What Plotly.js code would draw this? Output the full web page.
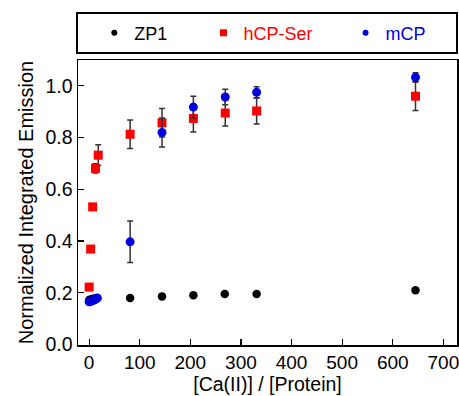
<!DOCTYPE html>
<html><head><meta charset="utf-8">
<script src="https://cdn.plot.ly/plotly-3.0.1.min.js"></script>
<style>html,body{margin:0;padding:0;background:#fff;}#chart{width:459px;height:396px;}</style>
</head><body><div id="chart"></div>
<script>
// ZP1
const zp1X = [0, 4, 8, 12, 16, 81, 144, 206, 268, 331, 645];
const zp1Y = [0.172, 0.175, 0.177, 0.178, 0.179, 0.180, 0.186, 0.190, 0.195, 0.195, 0.210];
// hCP-Ser
const hcpX = [0, 3, 7, 12.5, 18, 81, 144, 206, 269, 331, 645];
const hcpY = [0.222, 0.369, 0.532, 0.681, 0.732, 0.813, 0.857, 0.874, 0.895, 0.903, 0.960];
const hcpErr = [0.004, 0.005, 0.012, 0.018, 0.040, 0.055, 0.055, 0.052, 0.050, 0.050, 0.055];
// mCP
const mcpX = [0, 2, 4, 6, 8, 10, 12, 14, 16, 81, 144, 206, 269, 331, 645];
const mcpY = [0.165, 0.166, 0.168, 0.169, 0.171, 0.173, 0.175, 0.177, 0.180, 0.397, 0.820, 0.918, 0.957, 0.975, 1.033];
const mcpErr = [0, 0, 0, 0, 0, 0, 0, 0, 0, 0.080, 0.056, 0.042, 0.030, 0.022, 0.018];

const names = ['ZP1', 'hCP-Ser', 'mCP'];
const colors = ['#000000', '#ff0000', '#0000dd'];

const errStyle = (arr) => ({type: 'data', array: arr, visible: true, color: '#333333', thickness: 1.5, width: 3});

const traces = [
  {x: zp1X, y: zp1Y, type: 'scatter', mode: 'markers', showlegend: false,
   marker: {symbol: 'circle', size: 8.5, color: colors[0]}},
  {x: hcpX, y: hcpY, type: 'scatter', mode: 'markers', showlegend: false,
   error_y: errStyle(hcpErr),
   marker: {symbol: 'square', size: 9, color: colors[1]}},
  {x: mcpX, y: mcpY, type: 'scatter', mode: 'markers', showlegend: false,
   error_y: errStyle(mcpErr),
   marker: {symbol: 'circle', size: 9, color: colors[2]}},
  // legend-only entries
  {x: [null], y: [null], type: 'scatter', mode: 'markers', name: names[0], legend: 'legend',
   marker: {symbol: 'circle', size: 6, color: colors[0]}},
  {x: [null], y: [null], type: 'scatter', mode: 'markers', name: names[1], legend: 'legend2',
   marker: {symbol: 'square', size: 7, color: colors[1]}},
  {x: [null], y: [null], type: 'scatter', mode: 'markers', name: names[2], legend: 'legend3',
   marker: {symbol: 'circle', size: 6, color: colors[2]}}
];

const F = 'Liberation Sans, Arial, sans-serif';
const legBase = (x, color) => ({x: x, y: 1.0947, xanchor: 'left', yanchor: 'middle',
  bgcolor: 'rgba(0,0,0,0)', borderwidth: 0, font: {family: F, size: 18, color: color}});

const layout = {
  width: 459, height: 396,
  margin: {l: 78, r: 2, t: 60, b: 51},
  paper_bgcolor: '#fff', plot_bgcolor: '#fff',
  font: {family: F, size: 18, color: '#000'},
  xaxis: {
    range: [-22, 727], tickvals: [0, 100, 200, 300, 400, 500, 600, 700],
    ticks: 'inside', ticklen: 6, tickwidth: 1.2, tickcolor: '#000',
    showline: true, linecolor: '#000', linewidth: 1.5, mirror: true,
    showgrid: false, zeroline: false, ticklabeloverflow: 'allow',
    tickfont: {family: F, size: 19},
    title: {text: '[Ca(II)] / [Protein]', font: {family: F, size: 19.5}, standoff: 2}
  },
  yaxis: {
    range: [-0.002, 1.1], tickvals: [0, 0.2, 0.4, 0.6, 0.8, 1.0],
    ticktext: ['0.0', '0.2', '0.4', '0.6', '0.8', '1.0'],
    ticks: 'inside', ticklen: 6, tickwidth: 1.2, tickcolor: '#000',
    showline: true, linecolor: '#000', linewidth: 1.5, mirror: true,
    showgrid: false, zeroline: false,
    tickfont: {family: F, size: 19.5},
    title: {text: 'Normalized Integrated Emission', font: {family: F, size: 20}, standoff: 6}
  },
  legend: legBase(0.043, colors[0]),
  legend2: legBase(0.331, colors[1]),
  legend3: legBase(0.706, colors[2]),
  shapes: [
    {type: 'rect', xref: 'paper', yref: 'paper', x0: -0.0026, x1: 1.0, y0: 1.0246, y1: 1.165,
     line: {color: '#000', width: 2}, fillcolor: 'rgba(0,0,0,0)'}
  ]
};

Plotly.newPlot('chart', traces, layout, {staticPlot: true, displayModeBar: false});
</script></body></html>
